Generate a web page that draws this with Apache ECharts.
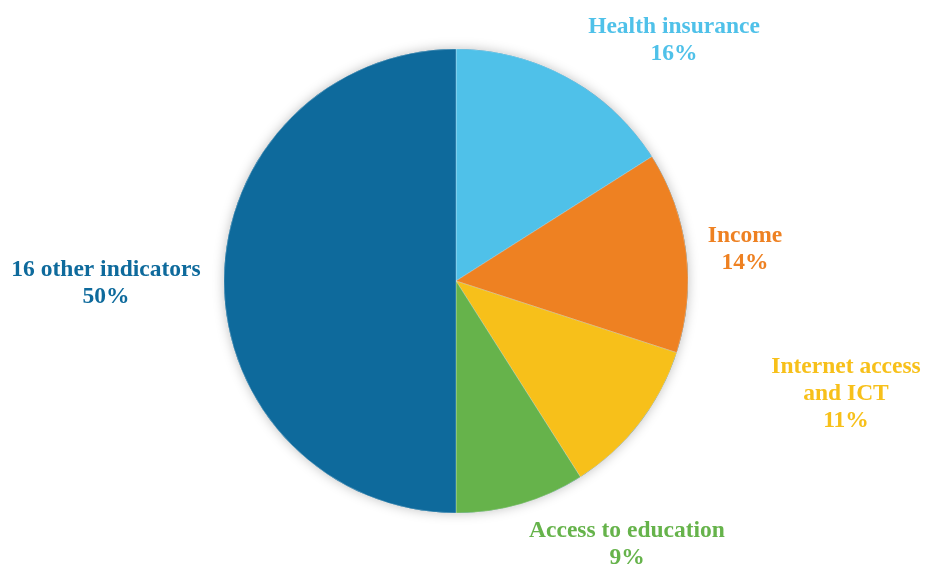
<!DOCTYPE html>
<html>
<head>
<meta charset="utf-8">
<script src="https://cdn.jsdelivr.net/npm/echarts@6/dist/echarts.min.js"></script>
<style>
  html, body { margin: 0; padding: 0; background: #fff; }
  #chart { width: 926px; height: 566px; }
</style>
</head>
<body>
<div id="chart"></div>
<script>
// Share of indicators
const categories = ['Health insurance', 'Income', 'Internet access\nand ICT', 'Access to education', '16 other indicators'];
const shares = [16, 14, 11, 9, 50];
const colors = ['#4FC1E9', '#EE8122', '#F7C01A', '#66B34B', '#0E6A9C'];
// label anchor points (centre of each text block)
const labelSpots = [[674, 40], [745, 249], [846, 394], [627, 544], [106, 283]];

const pieCenter = [456, 281];
const pieRadius = 232;

const chart = echarts.init(document.getElementById('chart'));
chart.setOption({
  animation: false,
  series: [
    {
      // soft drop shadow under the whole disc
      type: 'pie',
      silent: true,
      z: 1,
      center: pieCenter,
      radius: [0, pieRadius],
      data: [{ value: 1, name: '' }],
      itemStyle: {
        color: '#0E6A9C',
        shadowBlur: 12,
        shadowColor: 'rgba(0,0,0,0.25)'
      },
      label: { show: false },
      labelLine: { show: false },
      emphasis: { disabled: true }
    },
    {
      type: 'pie',
      z: 2,
      center: pieCenter,
      radius: [0, pieRadius],
      startAngle: 90,
      clockwise: true,
      data: categories.map((name, i) => ({
        name,
        value: shares[i],
        itemStyle: { color: colors[i] },
        label: { color: colors[i] }
      })),
      itemStyle: {
        borderColor: 'rgba(255,255,255,0.45)',
        borderWidth: 0.6
      },
      label: {
        show: true,
        position: 'outside',
        formatter: '{b}\n{d}%',
        fontFamily: '"Liberation Serif", "Times New Roman", serif',
        fontWeight: 'bold',
        fontSize: 23.5,
        lineHeight: 27,
        align: 'center',
        overflow: 'none',
        width: 300
      },
      labelLine: { show: false },
      labelLayout: function (p) {
        const s = labelSpots[p.dataIndex];
        return { x: s[0], y: s[1], align: 'center', verticalAlign: 'middle' };
      },
      emphasis: { disabled: true }
    }
  ]
});
</script>
</body>
</html>
